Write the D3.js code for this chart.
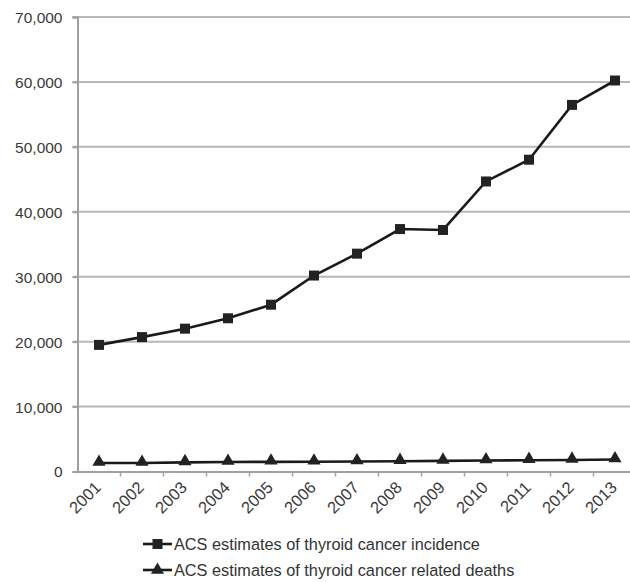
<!DOCTYPE html>
<html>
<head>
<meta charset="utf-8">
<script src="https://cdn.jsdelivr.net/npm/d3@7"></script>
<style>
  html, body { margin: 0; padding: 0; background: #fff; }
  svg { display: block; }
  text { font-family: "Liberation Sans", Arial, sans-serif; fill: #333; }
</style>
</head>
<body>
<svg id="chart" width="630" height="582"></svg>
<script>
const years = ["2001","2002","2003","2004","2005","2006","2007","2008","2009","2010","2011","2012","2013"];
const incidence = [19500, 20700, 22000, 23600, 25690, 30180, 33550, 37340, 37200, 44670, 48020, 56460, 60220];
const deaths = [1300, 1300, 1400, 1460, 1490, 1500, 1530, 1590, 1630, 1690, 1740, 1780, 1850];
const yTicks = [0, 10000, 20000, 30000, 40000, 50000, 60000, 70000];
const seriesNames = ["ACS estimates of thyroid cancer incidence", "ACS estimates of thyroid cancer related deaths"];

(function () {
const svg = d3.select("#chart");
const mL = 77.5, mR = 636.5, mT = 17, mB = 471.5;

const x = d3.scaleBand().domain(years).range([mL, mR]).padding(0);
const y = d3.scaleLinear().domain([0, 70000]).range([mB, mT]);

// gridlines
svg.append("g")
  .selectAll("line").data(yTicks.filter(d => d > 0)).join("line")
  .attr("x1", mL - 5).attr("x2", 630)
  .attr("y1", d => y(d)).attr("y2", d => y(d))
  .attr("stroke", "#b8b8b8").attr("stroke-width", 2);

// y axis
const yAxis = svg.append("g").attr("transform", `translate(${mL},0)`)
  .call(d3.axisLeft(y).tickValues(yTicks).tickSize(5).tickFormat(d3.format(",")));
yAxis.select(".domain").attr("stroke", "#a0a0a0").attr("stroke-width", 2);
yAxis.selectAll(".tick line").attr("stroke", "#a0a0a0").attr("stroke-width", 2);
yAxis.selectAll("text").attr("font-size", 15.5).attr("x", -15).attr("dy", "0.35em")
  .attr("font-family", "Liberation Sans, Arial, sans-serif").style("fill", "#3a3a3a");

// x axis
const xAxis = svg.append("g").attr("transform", `translate(0,${mB})`)
  .call(d3.axisBottom(x).tickSize(0).tickFormat(""));
xAxis.select(".domain").attr("stroke", "#a0a0a0").attr("stroke-width", 2);
// ticks between categories
svg.append("g").selectAll("line").data(years.slice(1)).join("line")
  .attr("x1", d => x(d)).attr("x2", d => x(d))
  .attr("y1", mB).attr("y2", mB + 5)
  .attr("stroke", "#a0a0a0").attr("stroke-width", 1.5);
// rotated labels
svg.append("g").selectAll("text").data(years).join("text")
  .attr("transform", d => `translate(${x(d) + x.bandwidth()/2 + 3},${mB + 17}) rotate(-45)`)
  .attr("text-anchor", "end")
  .attr("font-size", 16.5)
  .style("fill", "#3a3a3a")
  .text(d => d);

const cx = d => x(d) + x.bandwidth() / 2;
const line = d3.line().x((d, i) => cx(years[i])).y(d => y(d));

svg.append("path").datum(incidence).attr("d", line)
  .attr("fill", "none").attr("stroke", "#1a1a1a").attr("stroke-width", 2.6);
svg.append("path").datum(deaths).attr("d", line)
  .attr("fill", "none").attr("stroke", "#1a1a1a").attr("stroke-width", 2.6);

const sq = d3.symbol().type(d3.symbolSquare).size(100);
const tri = d3.symbol().type(d3.symbolTriangle).size(75);

svg.append("g").selectAll("path").data(incidence).join("path")
  .attr("d", sq)
  .attr("transform", (d, i) => `translate(${cx(years[i])},${y(d)})`)
  .attr("fill", "#222");
svg.append("g").selectAll("path").data(deaths).join("path")
  .attr("d", tri)
  .attr("transform", (d, i) => `translate(${cx(years[i])},${y(d) - 1})`)
  .attr("fill", "#222");

// legend
const lg = svg.append("g");
const rows = [{name: seriesNames[0], sym: sq, ly: 544}, {name: seriesNames[1], sym: tri, ly: 570}];
rows.forEach(r => {
  lg.append("line").attr("x1", 143).attr("x2", 172).attr("y1", r.ly).attr("y2", r.ly)
    .attr("stroke", "#1a1a1a").attr("stroke-width", 2.6);
  lg.append("path").attr("d", r.sym).attr("transform", `translate(157.5,${r.ly})`).attr("fill", "#222");
  lg.append("text").attr("x", 174).attr("y", r.ly).attr("dy", "0.35em")
    .attr("font-size", 16.3).style("fill", "#333").text(r.name);
});
})();
</script>
</body>
</html>
